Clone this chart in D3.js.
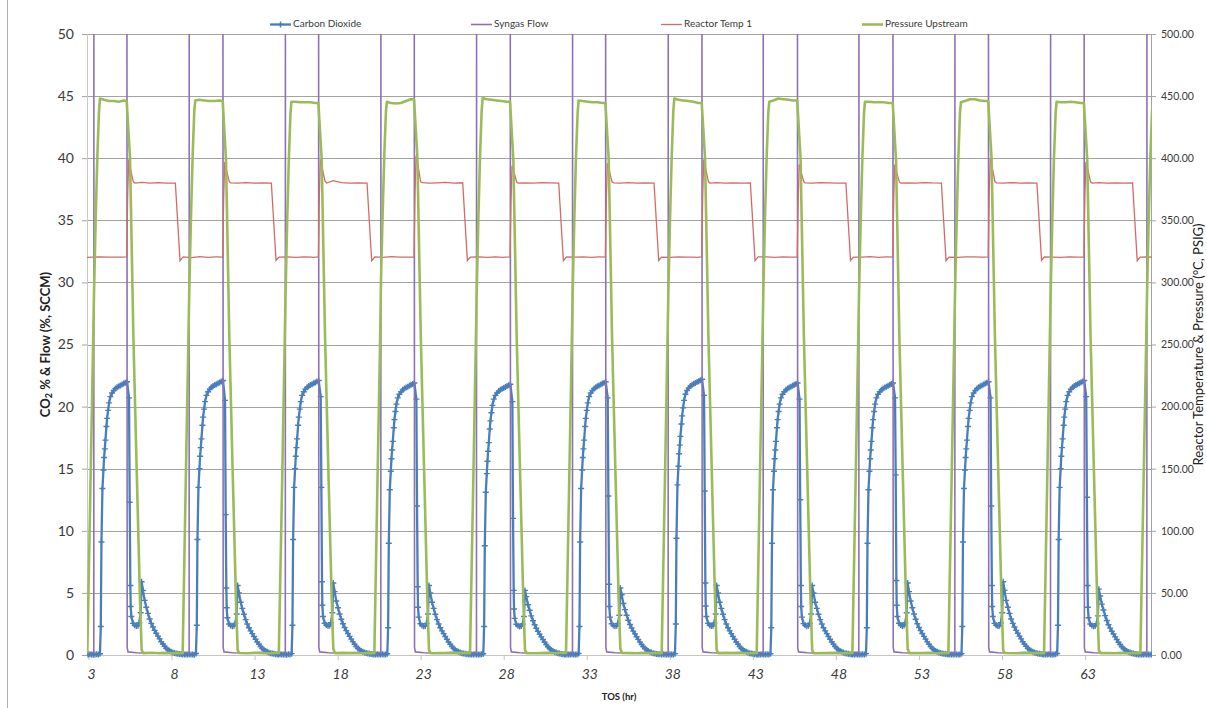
<!DOCTYPE html>
<html>
<head>
<meta charset="utf-8">
<script src="https://cdn.jsdelivr.net/npm/d3@7/dist/d3.min.js"></script>
<style>
html,body{margin:0;padding:0;background:#fff;}
svg{display:block;}
text{font-family:Lato,"Open Sans","Liberation Sans",sans-serif;}
</style>
</head>
<body>
<svg id="chart" width="1207" height="708"></svg>
<script>
// ---------------- DATA ----------------
const seriesNames = ["Carbon Dioxide", "Syngas Flow", "Reactor Temp 1", "Pressure Upstream"];
const tickHours = [3, 8, 13, 18, 23, 28, 33, 38, 43, 48, 53, 58, 63];
const leftTicks = [0, 5, 10, 15, 20, 25, 30, 35, 40, 45, 50];
const rightTicks = [0, 50, 100, 150, 200, 250, 300, 350, 400, 450, 500];

// syngas switched on (rise) / off (fall), hours on stream
const riseHr = [3.33, 9.07, 14.86, 20.61, 26.37, 32.15, 37.91, 43.63, 49.39, 55.17, 60.93, 66.73];
const fallHr = [5.30, 11.08, 16.84, 22.60, 28.38, 34.12, 39.92, 45.67, 51.42, 57.17, 62.93];

// CO2 (%), sampled at these hours relative to each syngas-off time
const co2OffsetHr = [-2.41,-2.31,-2.21,-2.11,-2.01,-1.91,-1.81,-1.71,-1.61,
  -1.56,-1.52,-1.46,-1.40,-1.36,-1.32,-1.28,-1.22,-1.18,-1.12,-1.06,
  -0.98,-0.88,-0.78,-0.68,-0.58,-0.48,-0.38,-0.28,-0.18,-0.08,
  0.02,
  0.14,0.18,0.22,0.24,0.28,0.38,0.48,0.58,0.68,0.76,0.84,0.90,0.98,1.08,1.18,1.28,1.38,1.48,
  1.58,1.68,1.78,1.88,1.98,2.08,2.18,2.28,2.38,2.48,2.58,2.68,2.78,2.88,2.98,3.08,3.18,3.28];
const co2C1 = [0.05,0.04,0.06,0.05,0.03,0.05,0.06,0.04,0.1,
  2.3,9.1,13.4,14.9,15.9,16.6,17.3,18.4,19.05,19.7,20.3,20.8,21.1,21.3,21.45,21.55,21.63,21.7,21.78,21.85,21.92,
  22.0,
  20.7,12.3,5.6,3.9,3.1,2.55,2.4,2.33,2.35,2.6,3.4,5.9,5.2,4.4,3.85,3.35,2.9,2.55,2.25,1.98,1.75,1.52,1.3,1.07,0.88,0.7,0.54,0.43,0.34,0.27,0.21,0.16,0.13,0.1,0.08,0.06];
const co2C2 = [0.06,0.05,0.04,0.05,0.06,0.04,0.05,0.03,0.12,
  2.4,9.3,13.5,15.0,16.0,16.7,17.4,18.5,19.15,19.8,20.4,20.9,21.2,21.4,21.55,21.65,21.73,21.8,21.88,21.95,22.02,
  22.1,
  20.5,11.3,5.4,3.8,3.0,2.5,2.38,2.32,2.36,2.55,3.3,5.6,5.0,4.25,3.75,3.28,2.85,2.5,2.2,1.94,1.72,1.49,1.27,1.05,0.86,0.68,0.53,0.42,0.33,0.26,0.2,0.15,0.12,0.1,0.07,0.06];
const co2C3 = [0.05,0.06,0.04,0.05,0.05,0.03,0.06,0.05,0.11,
  2.4,9.3,13.5,15.0,16.0,16.7,17.4,18.5,19.15,19.8,20.4,20.9,21.2,21.4,21.55,21.65,21.73,21.8,21.88,21.95,22.02,
  22.1,
  20.8,13.5,5.9,4.0,3.1,2.56,2.42,2.34,2.37,2.6,3.4,5.8,5.1,4.35,3.8,3.3,2.88,2.52,2.22,1.96,1.73,1.5,1.28,1.06,0.87,0.69,0.53,0.42,0.33,0.26,0.2,0.16,0.12,0.1,0.08,0.06];
const co2C4 = [0.04,0.05,0.06,0.04,0.05,0.06,0.05,0.04,0.1,
  2.2,9.0,13.3,14.8,15.8,16.5,17.2,18.3,18.95,19.6,20.2,20.7,21.0,21.2,21.35,21.45,21.53,21.6,21.68,21.75,21.82,
  21.9,
  20.6,12.0,5.5,3.85,3.05,2.52,2.38,2.31,2.34,2.55,3.3,5.6,5.0,4.25,3.75,3.28,2.85,2.5,2.2,1.94,1.72,1.49,1.27,1.05,0.86,0.68,0.53,0.42,0.33,0.26,0.2,0.15,0.12,0.1,0.07,0.06];
const co2C5 = [0.05,0.04,0.05,0.06,0.04,0.05,0.04,0.06,0.1,
  2.3,8.8,13.1,14.6,15.6,16.4,17.1,18.2,18.85,19.5,20.1,20.6,20.9,21.1,21.25,21.35,21.43,21.5,21.58,21.65,21.72,
  21.8,
  20.4,11.0,5.2,3.7,2.95,2.48,2.35,2.3,2.33,2.5,3.1,5.2,4.7,4.05,3.6,3.15,2.76,2.43,2.15,1.9,1.68,1.46,1.25,1.03,0.85,0.67,0.52,0.41,0.32,0.25,0.2,0.15,0.12,0.09,0.07,0.05];
const co2C6 = [0.06,0.05,0.04,0.05,0.06,0.05,0.04,0.05,0.12,
  2.3,9.1,13.4,14.9,15.9,16.6,17.3,18.4,19.05,19.7,20.3,20.8,21.1,21.3,21.45,21.55,21.63,21.7,21.78,21.85,21.92,
  22.0,
  20.7,12.8,5.7,3.9,3.05,2.52,2.38,2.32,2.35,2.55,3.2,5.4,4.85,4.15,3.65,3.2,2.8,2.46,2.17,1.92,1.7,1.47,1.26,1.04,0.85,0.68,0.52,0.41,0.32,0.25,0.2,0.15,0.12,0.09,0.07,0.06];
const co2C7 = [0.05,0.06,0.05,0.04,0.05,0.06,0.05,0.04,0.11,
  2.5,9.4,13.7,15.2,16.2,16.9,17.6,18.6,19.25,19.9,20.5,21.0,21.3,21.5,21.65,21.75,21.83,21.9,21.98,22.05,22.12,
  22.2,
  20.9,13.2,5.8,3.95,3.1,2.55,2.4,2.33,2.36,2.58,3.3,5.6,5.0,4.25,3.75,3.28,2.85,2.5,2.2,1.94,1.72,1.49,1.27,1.05,0.86,0.68,0.53,0.42,0.33,0.26,0.2,0.15,0.12,0.1,0.07,0.06];
const co2C8 = [0.04,0.05,0.05,0.06,0.04,0.05,0.06,0.05,0.1,
  2.2,9.0,13.3,14.8,15.8,16.5,17.2,18.3,18.95,19.6,20.2,20.7,21.0,21.2,21.35,21.45,21.53,21.6,21.68,21.75,21.82,
  21.9,
  20.6,12.5,5.6,3.9,3.05,2.53,2.39,2.32,2.35,2.56,3.3,5.6,5.0,4.25,3.75,3.28,2.85,2.5,2.2,1.94,1.72,1.49,1.27,1.05,0.86,0.68,0.53,0.42,0.33,0.26,0.2,0.15,0.12,0.1,0.07,0.06];
const co2C9 = [0.05,0.04,0.06,0.05,0.05,0.04,0.06,0.05,0.11,
  2.2,9.0,13.3,14.8,15.8,16.5,17.2,18.3,18.95,19.6,20.2,20.7,21.0,21.2,21.35,21.45,21.53,21.6,21.68,21.75,21.82,
  21.9,
  20.7,14.5,6.0,4.0,3.1,2.56,2.41,2.34,2.37,2.6,3.4,5.8,5.1,4.35,3.8,3.3,2.88,2.52,2.22,1.96,1.73,1.5,1.28,1.06,0.87,0.69,0.53,0.42,0.33,0.26,0.2,0.16,0.12,0.1,0.08,0.06];
const co2C10 = [0.06,0.05,0.05,0.04,0.06,0.05,0.04,0.05,0.1,
  2.3,9.1,13.4,14.9,15.9,16.6,17.3,18.4,19.05,19.7,20.3,20.8,21.1,21.3,21.45,21.55,21.63,21.7,21.78,21.85,21.92,
  22.0,
  20.7,12.0,5.6,3.9,3.1,2.55,2.4,2.33,2.35,2.6,3.4,5.9,5.2,4.4,3.85,3.35,2.9,2.55,2.25,1.98,1.75,1.52,1.3,1.07,0.88,0.7,0.54,0.43,0.34,0.27,0.21,0.16,0.13,0.1,0.08,0.06];
const co2C11 = [0.05,0.05,0.04,0.06,0.05,0.04,0.05,0.06,0.12,
  2.4,9.3,13.5,15.0,16.0,16.7,17.4,18.5,19.15,19.8,20.4,20.9,21.2,21.4,21.55,21.65,21.73,21.8,21.88,21.95,22.02,
  22.1,
  20.8,12.7,5.6,3.85,3.0,2.5,2.37,2.31,2.34,2.52,3.15,5.3,4.75,4.1,3.62,3.17,2.78,2.44,2.16,1.91,1.69,1.46,1.25,1.03,0.85,0.67,0.52,0.41,0.32,0.25,0.2,0.15,0.12,0.09,0.07,0.05];
const co2TailHr = [66.31, 66.41, 66.51, 66.61, 66.71, 66.81, 66.91, 67.01];
const co2TailPct = [0.05, 0.04, 0.05, 0.06, 0.05, 0.04, 0.05, 0.05];

// Syngas flow (SCCM) – high value is above the axis maximum
const flowLeadHr = [2.9];
const flowLeadSccm = [0.18];
const flowRiseOffsetHr = [-0.01, 0];
const flowRiseSccm = [0.2, 100];
const flowFallOffsetHr = [0, 0.03, 0.08, 0.6, 1.4, 2.2, 3.0];
const flowFallSccm = [100, 0.6, 0.25, 0.18, 0.15, 0.2, 0.16];

// Reactor temperature (°C), relative to each syngas-off time
const tempLeadHr = [2.9, 3.6, 4.3];
const tempLeadC = [320.2, 320.6, 320.4];
const tempOffsetHr = [-0.3, 0, 0.06, 0.12, 0.25, 0.4, 0.5, 0.9, 1.4, 1.9, 2.4, 2.93, 3.21, 3.3, 3.4, 3.9, 4.4, 4.9, 5.35];
const tempC1 = [320.3,320.5,370,399,390,381,380,380.5,380,380.3,380,380,317.5,319,320.5,320,320.8,320.2,320.5];
const tempC2 = [320.5,320.4,368,397,389,381,380.2,380,380.4,380,380.2,380,317.8,319.2,320.4,320.6,320.1,320.5,320.3];
const tempC3 = [320.2,320.6,371,399,391,381.5,380,382,380.3,380,380.1,380,317.4,319,320.6,320.2,320.7,320.3,320.4];
const tempC4 = [320.4,320.3,372,402,393,381,380.3,380,380.2,380.5,380,380.2,317.6,319.1,320.3,320.5,320.2,320.6,320.2];
const tempC5 = [320.3,320.5,366,394,388,380.8,380,380.2,380,380.3,380.1,380,317.5,319,320.5,320.3,320.6,320.1,320.5];
const tempC6 = [320.5,320.4,368,396,389,381,380.2,380,380.3,380,380.2,380,317.7,319.2,320.4,320.2,320.5,320.4,320.3];
const tempC7 = [320.2,320.5,370,399,391,381.2,380,380.4,380,380.2,380,380.1,317.5,319,320.5,320.6,320.2,320.5,320.4];
const tempC8 = [320.4,320.3,367,395,388,381,380.1,380,380.3,380.1,380,380,317.6,319.1,320.3,320.4,320.7,320.2,320.5];
const tempC9 = [320.5,320.4,367,395,388,380.9,380,380.2,380,380.4,380.1,380,317.5,319,320.4,320.2,320.5,320.6,320.3];
const tempC10 = [320.3,320.5,371,400,392,381.2,380.2,380,380.3,380,380.2,380,317.6,319.2,320.5,320.3,320.2,320.5,320.4];
const tempC11 = [320.4,320.3,369,397,390,381,380,380.3,380,380.2,380,380.1,317.5,319,320.4,320.5,320.3,320.6,320.4];

// Upstream pressure (PSIG): first 13 values relative to syngas-on, next 11 relative to syngas-off
const pressRiseOffsetHr = [-0.40, -0.2, -0.06, 0, 0.1, 0.2, 0.3, 0.36, 0.6, 0.9, 1.2, 1.5, 1.8];
const pressFallOffsetHr = [0, 0.2, 0.4, 0.6, 0.8, 0.9, 1.0, 1.5, 2.0, 2.5, 3.0];
const pressC1 = [1.5,145,245,290,350,400,437,448,447,446,446,445.5,446.5, 446,400,258,150,45,4,1.5,1.8,1.4,1.6,1.5];
const pressC2 = [1.4,150,250,295,352,402,438,446.5,447,446.5,446,446,446.5, 446,398,255,148,44,4,1.6,1.4,1.7,1.5,1.4];
const pressC3 = [1.6,140,242,288,348,398,436,445.5,445.5,445,445,445,444.5, 444.5,399,257,150,46,5,1.5,1.7,1.5,1.4,1.6];
const pressC4 = [1.5,148,248,302,355,403,438,445.5,444.5,444,444.5,446,447.5, 447.5,401,260,152,45,4,1.4,1.6,1.5,1.7,1.5];
const pressC5 = [1.5,142,244,290,350,400,438,448.5,447.5,447,446.5,446,445.5, 445.5,398,256,149,44,4,1.5,1.4,1.6,1.5,1.6];
const pressC6 = [1.6,146,246,292,351,401,437,446.5,446,445.5,445,445,444.5, 444.5,399,257,150,45,5,1.6,1.5,1.4,1.6,1.5];
const pressC7 = [1.4,144,245,291,350,400,438,448,447,446.5,446,445.5,444.5, 444.5,400,258,151,46,4,1.5,1.7,1.5,1.5,1.4];
const pressC8 = [1.5,147,247,293,352,401,437,445.5,446.5,448,447.5,447,446.5, 446.5,400,257,150,45,4,1.4,1.6,1.5,1.6,1.5];
const pressC9 = [1.6,143,244,290,349,399,436,445.5,445.5,445,445,445,444.5, 444.5,398,256,149,44,5,1.5,1.5,1.6,1.4,1.5];
const pressC10 = [1.5,145,246,291,350,400,437,445,446,447.5,447.5,446.5,446, 446,400,258,150,45,4,1.6,1.4,1.5,1.7,1.5];
const pressC11 = [1.4,146,247,292,351,401,437,445.5,445,445,445.5,445,444.5, 444.5,399,257,150,45,4,1.5,1.6,1.4,1.5,1.6];
const pressC12 = [1.5,145,245,290,350,400,437,447,446.5,446,446,445.5,445.5];

// ---------------- BUILD SERIES ----------------
const byTime = (a, b) => a[0] - b[0];
const co2Cycles = [co2C1, co2C2, co2C3, co2C4, co2C5, co2C6, co2C7, co2C8, co2C9, co2C10, co2C11];
const tempCycles = [tempC1, tempC2, tempC3, tempC4, tempC5, tempC6, tempC7, tempC8, tempC9, tempC10, tempC11];
const pressCycles = [pressC1, pressC2, pressC3, pressC4, pressC5, pressC6, pressC7, pressC8, pressC9, pressC10, pressC11, pressC12];

const co2 = [];
co2Cycles.forEach((vals, c) => co2OffsetHr.forEach((o, k) => { if (vals[k] !== undefined) co2.push([fallHr[c] + o, vals[k]]); }));
co2TailHr.forEach((h, i) => co2.push([h, co2TailPct[i]]));
co2.sort(byTime);

const flow = flowLeadHr.map((h, i) => [h, flowLeadSccm[i]]);
riseHr.forEach((r, c) => {
  flowRiseOffsetHr.forEach((o, k) => flow.push([r + o, flowRiseSccm[k]]));
  if (c < fallHr.length) flowFallOffsetHr.forEach((o, k) => flow.push([fallHr[c] + o, flowFallSccm[k]]));
});
flow.sort(byTime);

const temp = tempLeadHr.map((h, i) => [h, tempLeadC[i]]);
tempCycles.forEach((vals, c) => tempOffsetHr.forEach((o, k) => { if (vals[k] !== undefined) temp.push([fallHr[c] + o, vals[k]]); }));
temp.sort(byTime);

const press = [];
pressCycles.forEach((vals, c) => {
  pressRiseOffsetHr.forEach((o, k) => { if (vals[k] !== undefined) press.push([riseHr[c] + o, vals[k]]); });
  if (c < fallHr.length) pressFallOffsetHr.forEach((o, k) => { const v = vals[13 + k]; if (v !== undefined) press.push([fallHr[c] + o, v]); });
});
press.sort(byTime);

// ---------------- DRAW ----------------
const svg = d3.select("#chart");
const P = { l: 87, r: 1151, t: 34, b: 655 };
const x = d3.scaleLinear().domain([2.91, 66.97]).range([P.l, P.r]);
const yL = d3.scaleLinear().domain([0, 50]).range([P.b, P.t]);
const yR = d3.scaleLinear().domain([0, 500]).range([P.b, P.t]);

const gridCol = "#a3a3a3";
const txtCol = "#3a3a3a";

// chart-area border (left edge visible)
svg.append("line").attr("x1", 7.5).attr("x2", 7.5).attr("y1", 0).attr("y2", 708)
  .attr("stroke", "#b0b0b0").attr("stroke-width", 1);

// gridlines
svg.append("g").selectAll("line").data(leftTicks).join("line")
  .attr("x1", P.l).attr("x2", P.r)
  .attr("y1", d => Math.round(yL(d)) + 0.5).attr("y2", d => Math.round(yL(d)) + 0.5)
  .attr("stroke", d => d === 0 ? "#c4c4c4" : gridCol).attr("stroke-width", 1);

// axis lines
svg.append("line").attr("x1", P.l + 0.5).attr("x2", P.l + 0.5).attr("y1", P.t).attr("y2", P.b)
  .attr("stroke", "#c8c8c8");
svg.append("line").attr("x1", P.r + 0.5).attr("x2", P.r + 0.5).attr("y1", P.t).attr("y2", P.b)
  .attr("stroke", gridCol);

// left axis
const gL = svg.append("g").attr("transform", `translate(${P.l},0)`)
  .call(d3.axisLeft(yL).tickValues(leftTicks).tickSize(5).tickPadding(8).tickFormat(d3.format("d")));
gL.select(".domain").remove();
gL.selectAll(".tick line").attr("stroke", gridCol);
gL.selectAll(".tick text").attr("font-size", 14).attr("fill", txtCol)
  .attr("font-family", "Lato, 'Open Sans', sans-serif");

// right axis
const gR = svg.append("g").attr("transform", `translate(${P.r},0)`)
  .call(d3.axisRight(yR).tickValues(rightTicks).tickSize(5).tickPadding(5).tickFormat(d3.format(".2f")));
gR.select(".domain").remove();
gR.selectAll(".tick line").attr("stroke", gridCol);
gR.selectAll(".tick text").attr("font-size", 10.5).attr("fill", txtCol)
  .attr("font-family", "Lato, 'Open Sans', sans-serif");

// bottom axis
const gB = svg.append("g").attr("transform", `translate(0,${P.b})`)
  .call(d3.axisBottom(x).tickValues(tickHours).tickSize(5).tickPadding(9).tickFormat(d3.format("d")));
gB.select(".domain").remove();
gB.selectAll(".tick line").attr("stroke", "#c4c4c4");
gB.selectAll(".tick text").attr("font-size", 14).attr("fill", txtCol).attr("font-style", "italic")
  .attr("dx", 2.5).attr("font-family", "Lato, 'Open Sans', sans-serif");

// clip
svg.append("defs").append("clipPath").attr("id", "plotClip")
  .append("rect").attr("x", P.l).attr("y", P.t).attr("width", P.r - P.l + 1).attr("height", P.b - P.t + 5);
const plotG = svg.append("g").attr("clip-path", "url(#plotClip)");

const colBlue = "#4a7ebb", colPurple = "#8c72b5", colRed = "#d26b68", colGreen = "#9bbb59";

const lineL = d3.line().x(d => x(d[0])).y(d => yL(d[1]));
const lineR = d3.line().x(d => x(d[0])).y(d => yR(d[1]));

// CO2 line + plus markers
plotG.append("path").datum(co2).attr("d", lineL).attr("fill", "none")
  .attr("stroke", colBlue).attr("stroke-width", 2.3).attr("stroke-linejoin", "round");
plotG.append("g").selectAll("path").data(co2).join("path")
  .attr("transform", d => `translate(${x(d[0])},${yL(d[1])})`)
  .attr("d", "M-3,0H3M0,-3V3").attr("stroke", colBlue).attr("stroke-width", 1.4).attr("fill", "none");

// Syngas flow
plotG.append("path").datum(flow).attr("d", lineL).attr("fill", "none")
  .attr("stroke", colPurple).attr("stroke-width", 1.6);

// Reactor temp
plotG.append("path").datum(temp).attr("d", lineR).attr("fill", "none")
  .attr("stroke", colRed).attr("stroke-width", 1.3);

// Pressure
plotG.append("path").datum(press).attr("d", lineR).attr("fill", "none")
  .attr("stroke", colGreen).attr("stroke-width", 2.6).attr("stroke-linejoin", "round");

// axis titles
const lt = svg.append("text").attr("transform", `translate(47,${(P.t + P.b) / 2}) rotate(-90)`)
  .attr("text-anchor", "middle").attr("dominant-baseline", "middle")
  .attr("font-size", 13).attr("font-weight", "bold").attr("fill", "#222");
lt.append("tspan").text("CO");
lt.append("tspan").text("2").attr("font-size", 9).attr("dy", 3);
lt.append("tspan").text(" % & Flow (%, SCCM)").attr("dy", -3);

svg.append("text").attr("transform", `translate(1200,${(P.t + P.b) / 2}) rotate(-90)`)
  .attr("text-anchor", "middle").attr("dominant-baseline", "middle")
  .attr("font-size", 13).attr("fill", "#222").text("Reactor Temperature & Pressure (°C, PSIG)");

svg.append("text").attr("x", (P.l + P.r) / 2).attr("y", 700).attr("text-anchor", "middle")
  .attr("font-size", 9.5).attr("font-weight", "bold").attr("fill", "#222").text("TOS (hr)");

// legend
const legendX = [270, 471, 661, 862];
const legendCols = [colBlue, colPurple, colRed, colGreen];
const legendW = [2.3, 1.6, 1.3, 2.6];
const lg = svg.append("g");
seriesNames.forEach((name, i) => {
  const lx = legendX[i], ly = 24.5;
  lg.append("line").attr("x1", lx).attr("x2", lx + 21).attr("y1", ly).attr("y2", ly)
    .attr("stroke", legendCols[i]).attr("stroke-width", legendW[i]);
  if (i === 0) lg.append("path").attr("transform", `translate(${lx + 10.5},${ly})`)
    .attr("d", "M-3,0H3M0,-3V3").attr("stroke", colBlue).attr("stroke-width", 1.4);
  lg.append("text").attr("x", lx + 23).attr("y", ly).attr("dominant-baseline", "middle")
    .attr("font-size", 10).attr("fill", txtCol).text(name);
});
</script>
</body>
</html>
